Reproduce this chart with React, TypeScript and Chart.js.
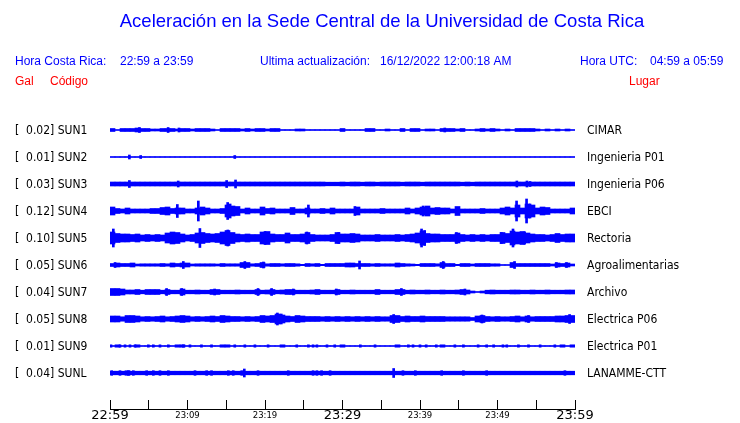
import React, { useEffect, useRef } from 'react';
import { Chart, registerables } from 'chart.js';

Chart.register(...registerables);

// ---------------- data ----------------
const TITLE = 'Aceleración en la Sede Central de la Universidad de Costa Rica';
const HEADER_BLUE: [string, number][] = [
  ['Hora Costa Rica:', 15],
  ['22:59 a 23:59', 120],
  ['Ultima actualización:', 260],
  ['16/12/2022 12:00:18 AM', 380],
  ['Hora UTC:', 580],
  ['04:59 a 05:59', 650],
];
const HEADER_RED: [string, number][] = [
  ['Gal', 15],
  ['Código', 50],
  ['Lugar', 629],
];

const TRACE_CODES = ['SUN1', 'SUN2', 'SUN3', 'SUN4', 'SUN5', 'SUN6', 'SUN7', 'SUN8', 'SUN9', 'SUNL'];
const TRACE_PEAK_GAL = [0.02, 0.01, 0.03, 0.12, 0.10, 0.05, 0.04, 0.05, 0.01, 0.04];
const TRACE_PLACES = ['CIMAR', 'Ingenieria P01', 'Ingenieria P06', 'EBCI', 'Rectoria', 'Agroalimentarias', 'Archivo', 'Electrica P06', 'Electrica P01', 'LANAMME-CTT'];

const X_TICK_LABELS = ['22:59', '', '23:09', '', '23:19', '', '23:29', '', '23:39', '', '23:49', '', '23:59'];
const X_MAJOR_LABELS = ['22:59', '23:29', '23:59'];

// envelope half-amplitudes, 93 equal time bins over the hour
const ENV_SUN1 = [
  1.5, 0.5, 1.5, 1.5, 1.5, 2, 1.5, 1.5, 1, 1,
  1.5, 1.5, 1.5, 1, 1.5, 1.5, 1, 1.5, 1.5, 1.5,
  1, 0.5, 1.5, 1.5, 1.5, 1.5, 1, 1.5, 1, 1.5,
  1.5, 1, 1.5, 1.5, 0.5, 0.5, 0.5, 1, 1, 0.5,
  0.5, 0.5, 0.5, 0.5, 0.5, 0.5, 1.5, 0.5, 0.5, 0.5,
  0.5, 1.5, 1.5, 0.5, 0.5, 1, 0.5, 0.5, 1.5, 0.5,
  1.5, 1.5, 0.5, 1, 1, 0.5, 1.5, 1.5, 1.5, 1,
  1.5, 0.5, 0.5, 1, 1.5, 1, 1.5, 1, 0.5, 1,
  0.5, 1.5, 1.5, 1.5, 1.5, 1, 0.5, 1, 0.5, 1,
  0.5, 1, 0.5,
];
const ENV_SUN2 = [
  0.5, 0.5, 0.5, 0.5, 0.5, 0.5, 0.5, 0.5, 0.5, 0.5,
  0.5, 0.5, 0.5, 0.5, 0.5, 0.5, 0.5, 0.5, 0.5, 0.5,
  0.5, 0.5, 0.5, 0.5, 0.5, 0.5, 0.5, 0.5, 0.5, 0.5,
  0.5, 0.5, 0.5, 0.5, 0.5, 0.5, 0.5, 0.5, 0.5, 0.5,
  0.5, 0.5, 0.5, 0.5, 0.5, 0.5, 0.5, 0.5, 0.5, 0.5,
  0.5, 0.5, 0.5, 0.5, 0.5, 0.5, 0.5, 0.5, 0.5, 0.5,
  0.5, 0.5, 0.5, 0.5, 0.5, 0.5, 0.5, 0.5, 0.5, 0.5,
  0.5, 0.5, 0.5, 0.5, 0.5, 0.5, 0.5, 0.5, 0.5, 0.5,
  0.5, 0.5, 0.5, 0.5, 0.5, 0.5, 0.5, 0.5, 0.5, 0.5,
  0.5, 0.5, 0.5,
];
const ENV_SUN3 = [
  2, 2, 2, 2, 2, 2, 2, 2, 2, 2,
  2, 2, 2, 2, 2, 2, 2, 2, 2, 2,
  2, 2, 2, 2, 2, 2, 2, 2, 2, 2,
  2, 2, 2, 2, 2, 2, 2, 2, 2, 2,
  2, 2, 2, 1.8, 1.8, 1.8, 2, 1.8, 2, 2,
  1.8, 2, 2, 1.8, 2, 2, 2, 2, 1.8, 2,
  2, 2, 1.8, 2, 2, 2, 2, 2, 2, 2,
  1.8, 2, 1.8, 2, 2, 2, 2, 2, 2, 2,
  2, 2, 2, 2, 2, 2, 2, 2, 2, 2,
  2, 2, 2,
];
const ENV_SUN4 = [
  4, 2.5, 2, 3, 2, 2, 2, 2, 2.5, 2.5,
  3.5, 4, 2.5, 3, 3, 2, 2, 3, 4, 3,
  2, 2, 2.5, 6, 5, 4.5, 2, 3, 2, 2,
  4, 2.5, 3, 2, 2, 2, 3.5, 2, 2, 3,
  2, 2, 2.5, 2, 3, 2, 2, 2, 2, 4,
  2, 2, 2, 2, 2.5, 2, 2, 2, 2, 3,
  2, 3, 4, 5, 3, 3.5, 3, 3, 2, 4.5,
  2, 2, 2, 2, 2.5, 2, 2, 2, 3, 4,
  3, 6, 3, 7, 6, 3, 4, 3.5, 2, 2,
  2, 2, 3,
];
const ENV_SUN5 = [
  6, 4.5, 4, 4, 3.5, 4, 3, 3.5, 3, 3.5,
  3, 5, 6, 5.5, 4, 3, 3.5, 5, 5.5, 4.5,
  4, 4.5, 6, 7.5, 5.5, 4, 3.5, 4, 3.5, 3.5,
  6, 6.5, 4, 3.5, 3.5, 5, 3.5, 3.5, 4, 5.5,
  3.5, 3, 3, 3, 3.5, 5.5, 4, 4, 4.5, 4,
  3, 3, 3, 3.5, 3, 3, 3, 3.5, 3, 3.5,
  4, 5, 7, 4.5, 4, 4, 3.5, 3.5, 3.5, 5,
  3.5, 3, 3.5, 3, 3.5, 3, 3.5, 3.5, 5.5, 4.5,
  7, 6, 6.5, 5, 4, 3.5, 3.5, 3, 3.5, 4.5,
  3.5, 4, 4,
];
const ENV_SUN6 = [
  1.5, 2, 1.5, 1.5, 2, 1, 1.2, 1.2, 1.2, 1.2,
  1.5, 1.2, 2, 1.5, 2, 2, 1, 1.2, 1.2, 1.2,
  1.2, 1, 1.5, 1.2, 1.2, 1.2, 2.5, 2.5, 1.2, 1.5,
  2.5, 1.2, 1.5, 1.5, 1.2, 1.5, 1.5, 1.2, 0.7, 1.5,
  1.2, 1.5, 0.7, 1.5, 1.5, 1.5, 1.5, 2, 2, 1.5,
  1.5, 1.5, 1.2, 1.5, 1.2, 1.2, 1.2, 2, 1.5, 1.2,
  1, 0.7, 1.5, 1.5, 1.5, 1.2, 2.5, 1.5, 1.5, 0.7,
  1.5, 1.5, 1, 1.5, 1.5, 1.5, 1.2, 1.2, 0.5, 0.5,
  2.5, 1.5, 1.5, 1.5, 1.5, 1.5, 1.5, 1.5, 1, 2,
  1.5, 2, 1,
];
const ENV_SUN7 = [
  3.5, 3.5, 3, 2, 2, 2.5, 1.8, 2.5, 2.5, 2.5,
  1.8, 2.5, 1.8, 1.8, 3, 1.8, 1.8, 2, 1.8, 1.8,
  2.5, 2.5, 1.8, 1.8, 1.8, 2, 1.8, 1.8, 1.8, 2.5,
  1.8, 2, 2.5, 1.8, 2, 2.5, 2.5, 1.8, 1.8, 1.8,
  2, 2.5, 1.8, 1.8, 1.8, 2.5, 1.8, 1.8, 2, 1.8,
  1.8, 1.8, 1.8, 2.5, 1.8, 1.8, 1.8, 2.5, 2.5, 1.8,
  2, 1.8, 1.8, 2, 1.8, 1.8, 2, 1.8, 1.8, 2,
  2.5, 2, 1, 0.5, 1, 1.8, 2, 1.8, 1.8, 1.8,
  2, 2, 1.8, 1.8, 2, 1.8, 1.8, 2, 1.8, 1.8,
  1.8, 2, 2,
];
const ENV_SUN8 = [
  3, 3, 2.2, 3.5, 3.5, 3, 2.2, 2.5, 2.2, 2.5,
  3, 2.2, 2.5, 3, 3.5, 3, 2.2, 2.5, 2.2, 2.5,
  3, 2.5, 3.5, 3, 2.5, 2.5, 2.2, 2.5, 2.2, 2.5,
  3.5, 3, 3.5, 5, 4, 3, 2.5, 3.5, 3, 2.5,
  2.5, 2.5, 2.2, 2.5, 2.2, 2.5, 2.2, 2.5, 2.2, 2.5,
  2.2, 2.5, 2.2, 2.5, 2.2, 2.2, 3.5, 3.5, 2.5, 3,
  2.5, 2.5, 3, 2.5, 2.5, 2.5, 2.5, 2.2, 2.2, 2.2,
  2.2, 2.2, 1.5, 3, 3.5, 2.5, 2.2, 2.5, 2.2, 2.2,
  2.5, 3, 2.2, 3, 2.2, 2.5, 2.5, 2.5, 2.5, 3,
  3, 3.5, 3.5,
];
const ENV_SUN9 = [
  0.5, 1.2, 0.5, 0.5, 0.5, 1.2, 0.5, 0.5, 0.5, 0.5,
  0.5, 0.5, 0.5, 1.2, 1.2, 0.5, 0.5, 0.5, 0.5, 0.5,
  0.5, 0.5, 1.2, 1.2, 0.5, 0.5, 0.5, 0.5, 0.5, 0.5,
  0.5, 0.5, 0.5, 0.5, 1.2, 0.5, 0.5, 0.5, 0.5, 0.5,
  0.5, 0.5, 0.5, 0.5, 0.5, 0.5, 1.2, 0.5, 0.5, 0.5,
  0.5, 0.5, 0.5, 0.5, 0.5, 0.5, 0.5, 1.2, 0.5, 0.5,
  0.5, 0.5, 0.5, 0.5, 0.5, 0.5, 1.2, 0.5, 0.5, 0.5,
  0.5, 0.5, 0.5, 0.5, 0.5, 0.5, 0.5, 0.5, 0.5, 0.5,
  0.5, 0.5, 0.5, 0.5, 0.5, 0.5, 0.5, 0.5, 0.5, 0.5,
  1.2, 0.5, 1.2,
];
const ENV_SUNL = [
  1.8, 1.8, 1.8, 2.3, 1.8, 1.8, 1.8, 1.8, 1.8, 1.8,
  1.8, 1.8, 1.8, 1.8, 1.8, 1.8, 1.8, 1.8, 1.8, 1.8,
  1.8, 1.8, 1.8, 1.8, 1.8, 1.8, 1.8, 1.8, 1.8, 1.8,
  1.8, 1.8, 1.8, 1.8, 1.8, 1.8, 1.8, 1.8, 1.8, 1.8,
  1.8, 1.8, 1.8, 1.8, 1.8, 1.8, 1.8, 1.8, 1.8, 1.8,
  1.8, 1.8, 1.8, 1.8, 1.8, 1.8, 1.8, 1.8, 1.8, 1.8,
  1.8, 1.8, 1.8, 1.8, 1.8, 1.8, 1.8, 1.8, 1.8, 1.8,
  1.8, 1.8, 1.8, 1.8, 1.8, 1.8, 1.8, 1.8, 1.8, 1.8,
  1.8, 1.8, 1.8, 1.8, 1.8, 1.8, 1.8, 1.8, 1.8, 1.8,
  1.8, 1.8, 1.8,
];

// sharp peaks: [minutes after 22:59, half-amplitude]
const PEAKS_SUN1 = [[3.8, 2.5], [7.5, 2.5], [8.9, 2], [43.2, 2]];
const PEAKS_SUN2 = [[2.5, 2], [3.96, 1.5], [16.1, 1.5]];
const PEAKS_SUN3 = [[2.5, 3.5], [8.8, 3], [15.05, 3.5], [16.2, 4], [52.5, 3], [53.8, 3], [54.2, 2.5]];
const PEAKS_SUN4 = [[8.69, 6.5], [11.4, 10], [15.18, 8.5], [15.5, 7], [25.6, 6], [31.6, 4.5], [40.4, 5], [52.46, 10], [53.75, 12], [54.2, 7]];
const PEAKS_SUN5 = [[0.43, 9], [11.6, 9.5], [15.2, 8], [20, 6.5], [25.4, 6], [29.5, 5.5], [40.2, 9], [40.6, 7.5], [44.7, 5.5], [50.5, 5.5], [52, 9], [53.5, 6]];
const PEAKS_SUN6 = [[0.65, 2.5], [9.46, 3.5], [17.4, 3.5], [19.8, 3], [32.2, 4], [43, 3.5], [52.2, 3.5], [57.6, 2.5], [58.9, 2.5]];
const PEAKS_SUN7 = [[7.3, 3.5], [9.25, 3.5], [13.5, 3], [19.1, 3.5], [20.85, 3.5], [23.65, 3], [29.2, 3], [37.6, 3.5], [45.8, 3]];
const PEAKS_SUN8 = [[21.6, 6], [22.1, 5], [36.6, 4.5], [48, 4], [54, 3.5], [59.3, 4.5]];
const PEAKS_SUN9 = [
  [0.13, 1.2], [1.29, 1.2], [1.94, 1.2], [2.58, 1.2], [3.23, 1.2], [4.95, 1.2], [5.59, 1.2], [6.45, 1.2], [7.53, 1.2],
  [9.46, 1.2], [10.32, 1.2], [11.8, 1.2], [13.1, 1.2], [16.1, 1.2], [17.4, 1.2], [18.7, 1.2], [20.4, 1.2], [24.1, 1.2],
  [25.6, 1.2], [26.2, 1.2], [26.7, 1.2], [28, 1.2], [29, 1.2], [32.3, 1.2], [34.2, 1.2], [38.5, 1.2], [39.1, 1.2],
  [40, 1.2], [40.8, 1.2], [42.1, 1.2], [44.5, 1.2], [45.6, 1.2], [47.5, 1.2], [48.6, 1.2], [49.5, 1.2], [50.7, 1.2],
  [51.2, 1.2], [52.7, 1.2], [54, 1.2], [55.5, 1.2], [57.4, 1.2],
];
const PEAKS_SUNL = [
  [0.22, 2.3], [1.29, 2.3], [2.37, 2.3], [3.01, 2.3], [4.73, 2.3], [5.59, 2.3], [6.45, 2.3], [7.53, 2.3], [10.97, 2.3],
  [12.47, 2.3], [13.1, 2.3], [15.27, 2.3], [15.9, 2.3], [17, 2.3], [17.33, 4], [19.1, 2.3], [23, 2.3], [26.2, 2.3],
  [26.7, 2.3], [27.3, 2.3], [28.4, 2.3], [36.6, 4.5], [37.8, 2.3], [39.4, 2.3], [42.8, 2.3], [45.6, 2.3], [48.6, 2.3],
  [58.7, 2.3],
];

const ENVELOPES = [ENV_SUN1, ENV_SUN2, ENV_SUN3, ENV_SUN4, ENV_SUN5, ENV_SUN6, ENV_SUN7, ENV_SUN8, ENV_SUN9, ENV_SUNL];
const PEAKS = [PEAKS_SUN1, PEAKS_SUN2, PEAKS_SUN3, PEAKS_SUN4, PEAKS_SUN5, PEAKS_SUN6, PEAKS_SUN7, PEAKS_SUN8, PEAKS_SUN9, PEAKS_SUNL];

// ---------------- styling / layout ----------------
const BLUE = '#0000ff';
const RED = '#ff0000';
const SPAN_MIN = 60;
const SPACING = 27; // amplitude units between trace baselines
const LABEL_FONT = "'DejaVu Sans Condensed', 'DejaVu Sans', sans-serif";
const HEAD_FONT = "'Liberation Sans', Arial, sans-serif";

const headerPlugin = {
  id: 'seisHeader',
  afterDraw(chart: any) {
    const ctx = chart.ctx as CanvasRenderingContext2D;
    ctx.save();
    ctx.textBaseline = 'middle';
    ctx.fillStyle = BLUE;
    ctx.textAlign = 'center';
    ctx.font = `18.5px ${HEAD_FONT}`;
    ctx.fillText(TITLE, 382, 22);
    ctx.textAlign = 'left';
    ctx.font = `12px ${HEAD_FONT}`;
    HEADER_BLUE.forEach(([t, x]) => ctx.fillText(t, x, 62));
    ctx.fillStyle = RED;
    HEADER_RED.forEach(([t, x]) => ctx.fillText(t, x, 82));
    ctx.restore();
  },
};

export default function App() {
  const ref = useRef<HTMLCanvasElement>(null);

  useEffect(() => {
    const canvas = ref.current;
    if (!canvas) return;
    const datasets: any[] = [];
    TRACE_CODES.forEach((code, i) => {
      const c = i * SPACING;
      const env = ENVELOPES[i];
      const n = env.length;
      datasets.push({
        label: code,
        data: env.map((a, k) => ({ x: ((k + 0.5) * SPAN_MIN) / n, y: [c - a, c + a] })),
        backgroundColor: BLUE,
        borderWidth: 0,
        barThickness: 5,
        grouped: false,
      });
      datasets.push({
        label: code + ' picos',
        data: PEAKS[i].map(([t, a]) => ({ x: t, y: [c - a, c + a] })),
        backgroundColor: BLUE,
        borderWidth: 0,
        barThickness: 2,
        grouped: false,
      });
    });

    const traceTicks = (scale: any) => {
      scale.ticks = TRACE_CODES.map((_, i) => ({ value: i * SPACING }));
    };
    const yMin = -SPACING;
    const yMax = (TRACE_CODES.length - 1) * SPACING + 36;

    const chart = new Chart(canvas, {
      type: 'bar',
      data: { datasets },
      options: {
        responsive: false,
        animation: false,
        devicePixelRatio: 1,
        layout: { padding: { left: 15, top: 103, right: 0, bottom: 0 } },
        plugins: {
          legend: { display: false },
          tooltip: { enabled: false },
          title: { display: false },
        },
        scales: {
          x: {
            type: 'linear',
            position: 'bottom',
            min: 0,
            max: SPAN_MIN,
            offset: false,
            ticks: {
              stepSize: 5,
              autoSkip: false,
              maxRotation: 0,
              minRotation: 0,
              padding: 9,
              color: '#000',
              callback: (_v: any, i: number) => X_TICK_LABELS[i] ?? '',
              font: (ctx: any) => {
                const lbl = X_TICK_LABELS[ctx.index];
                const size = X_MAJOR_LABELS.includes(lbl) ? 13 : 8.5;
                return { family: "'DejaVu Sans', sans-serif", size, lineHeight: 13 / size };
              },
            },
            grid: {
              display: true,
              drawOnChartArea: false,
              drawTicks: true,
              tickLength: -9,
              color: '#000',
              lineWidth: 1,
              offset: false,
            },
            border: { display: true, color: '#000', width: 1 },
            afterFit: (s: any) => {
              s.height = 14;
            },
          },
          y: {
            type: 'linear',
            position: 'left',
            min: yMin,
            max: yMax,
            reverse: true,
            afterBuildTicks: traceTicks,
            ticks: {
              autoSkip: false,
              crossAlign: 'far',
              padding: 0,
              labelOffset: 1,
              color: '#000',
              font: { family: LABEL_FONT, size: 12 },
              callback: (_v: any, i: number) =>
                `[  ${TRACE_PEAK_GAL[i].toFixed(2)}] ${TRACE_CODES[i]}`,
            },
            grid: { display: false, drawTicks: false },
            border: { display: false },
            afterFit: (s: any) => {
              s.width = 95;
              s.paddingTop = 0;
              s.paddingBottom = 0;
            },
          },
          y2: {
            type: 'linear',
            position: 'right',
            display: true,
            min: yMin,
            max: yMax,
            reverse: true,
            afterBuildTicks: traceTicks,
            ticks: {
              autoSkip: false,
              crossAlign: 'near',
              padding: 12,
              labelOffset: 1,
              color: '#000',
              font: { family: LABEL_FONT, size: 12 },
              callback: (_v: any, i: number) => TRACE_PLACES[i],
            },
            grid: { display: false, drawTicks: false },
            border: { display: false },
            afterFit: (s: any) => {
              s.width = 165;
              s.paddingTop = 0;
              s.paddingBottom = 0;
            },
          },
        },
      } as any,
      plugins: [headerPlugin],
    });

    return () => chart.destroy();
  }, []);

  return (
    <div style={{ position: 'fixed', left: 0, top: 0, width: 740, height: 423, background: '#fff' }}>
      <canvas ref={ref} width={740} height={423} style={{ display: 'block', width: 740, height: 423 }} />
    </div>
  );
}
